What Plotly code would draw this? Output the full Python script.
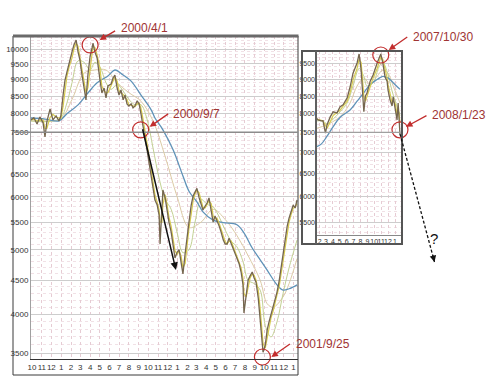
import math
import pandas as pd
import plotly.graph_objects as go

W, H = 499, 388

# ---------------- left panel : index, 1999/10 - 2002/1 ----------------
dates_a = [
    "1999-09-28", "1999-10-07", "1999-10-17", "1999-10-26", "1999-11-05", "1999-11-11", "1999-11-17", "1999-11-27", "1999-12-06", "1999-12-16",
    "1999-12-25", "1999-12-31", "2000-01-07", "2000-01-13", "2000-01-19", "2000-01-26", "2000-02-04", "2000-02-10", "2000-02-17", "2000-02-23",
    "2000-02-29", "2000-03-06", "2000-03-13", "2000-03-19", "2000-03-25", "2000-04-01", "2000-04-07", "2000-04-10", "2000-04-16", "2000-04-23",
    "2000-05-02", "2000-05-08", "2000-05-15", "2000-05-21", "2000-05-27", "2000-06-06", "2000-06-12", "2000-06-18", "2000-06-25", "2000-07-01",
    "2000-07-07", "2000-07-14", "2000-07-20", "2000-07-26", "2000-08-01", "2000-08-08", "2000-08-14", "2000-08-20", "2000-08-27", "2000-09-02",
    "2000-09-08", "2000-09-14", "2000-09-21", "2000-09-27", "2000-10-03", "2000-10-10", "2000-10-16", "2000-10-22", "2000-10-29", "2000-11-04",
    "2000-11-07", "2000-11-13", "2000-11-16", "2000-11-23", "2000-11-29", "2000-12-05", "2000-12-12", "2000-12-18", "2000-12-24", "2000-12-31",
    "2001-01-06", "2001-01-12", "2001-01-18", "2001-01-25", "2001-01-31", "2001-02-06", "2001-02-13", "2001-02-19", "2001-02-25", "2001-03-03",
    "2001-03-10", "2001-03-16", "2001-03-22", "2001-03-29", "2001-04-04", "2001-04-10", "2001-04-17", "2001-04-23", "2001-04-29", "2001-05-05",
    "2001-05-12", "2001-05-18", "2001-05-25", "2001-05-31", "2001-06-06", "2001-06-12", "2001-06-19", "2001-06-25", "2001-07-01", "2001-07-07",
    "2001-07-14", "2001-07-20", "2001-07-26", "2001-07-29", "2001-08-05", "2001-08-11", "2001-08-17", "2001-08-24", "2001-08-30", "2001-09-05",
    "2001-09-12", "2001-09-18", "2001-09-24", "2001-09-27", "2001-10-04", "2001-10-10", "2001-10-16", "2001-10-22", "2001-10-29", "2001-11-04",
    "2001-11-10", "2001-11-17", "2001-11-23", "2001-11-29", "2001-12-05", "2001-12-12", "2001-12-18", "2001-12-24", "2001-12-31", "2002-01-06",
    "2002-01-12",
]
close_a = [
    7830, 7885, 7720, 7910, 7750, 7380, 7780, 8130, 7830, 7940,
    7800, 7940, 8530, 8985, 9230, 9560, 9900, 10140, 10315, 9900,
    9627, 9170, 8740, 8390, 9140, 9760, 10035, 10200, 9900, 9694,
    8985, 8590, 8740, 8446, 8800, 8860, 9047, 9140, 8740, 8530,
    8680, 8390, 8530, 8275, 8215, 8275, 8160, 8215, 8360, 8275,
    7995, 7720, 7360, 7060, 6770, 6472, 6145, 5937, 5835, 5637,
    5100, 5735, 6145, 5980, 5700, 5500, 5315, 5082, 4860, 4960,
    5000, 4790, 4600, 4940, 5260, 5500, 5835, 6020, 6100, 6180,
    5980, 5835, 5735, 5815, 5875, 5980, 5735, 5500, 5620, 5540,
    5425, 5315, 5170, 5100, 5100, 5205, 5100, 5015, 4940, 4860,
    4760, 4630, 4427, 4020, 4320, 4500, 4565, 4630, 4535, 4470,
    4230, 3922, 3690, 3510, 3598, 3790, 3900, 3990, 4120, 4230,
    4320, 4500, 4695, 4960, 5170, 5425, 5580, 5700, 5835, 5775,
    5937,
]
ma_short_a = [
    7830, 7850, 7800, 7810, 7830, 7600, 7600, 7900, 7980, 7900,
    7870, 7870, 8200, 8700, 9100, 9400, 9700, 10000, 10200, 10100,
    9750, 9400, 8950, 8600, 8750, 9400, 9850, 10100, 10050, 9800,
    9350, 8800, 8650, 8600, 8600, 8800, 8950, 9080, 8950, 8650,
    8600, 8550, 8450, 8400, 8250, 8240, 8220, 8190, 8280, 8300,
    8150, 7870, 7550, 7220, 6920, 6620, 6320, 6050, 5890, 5740,
    5500, 5500, 5850, 6050, 5850, 5600, 5420, 5200, 4980, 4920,
    4980, 4900, 4700, 4770, 5100, 5380, 5650, 5920, 6060, 6140,
    6080, 5920, 5790, 5780, 5840, 5920, 5860, 5620, 5560, 5580,
    5480, 5370, 5250, 5140, 5100, 5150, 5150, 5060, 4980, 4900,
    4810, 4700, 4530, 4300, 4250, 4400, 4530, 4600, 4580, 4500,
    4350, 4080, 3800, 3620, 3560, 3690, 3850, 3950, 4050, 4180,
    4280, 4410, 4600, 4830, 5060, 5300, 5500, 5640, 5770, 5800,
    5860,
]
ma_mid_dates_a = [
    "1999-09-28", "1999-11-05", "1999-12-06", "1999-12-31", "2000-01-19", "2000-02-04", "2000-02-23", "2000-03-13", "2000-04-01", "2000-04-16",
    "2000-05-02", "2000-05-21", "2000-06-06", "2000-06-25", "2000-07-14", "2000-08-01", "2000-08-20", "2000-09-08", "2000-09-27", "2000-10-16",
    "2000-11-04", "2000-11-23", "2000-12-12", "2000-12-31", "2001-01-18", "2001-02-06", "2001-02-25", "2001-03-16", "2001-04-04", "2001-04-23",
    "2001-05-12", "2001-05-31", "2001-06-19", "2001-07-07", "2001-07-26", "2001-08-11", "2001-08-30", "2001-09-18", "2001-10-04", "2001-10-22",
    "2001-11-10", "2001-11-29", "2001-12-18", "2002-01-12",
]
ma_mid_a = [
    7800, 7780, 7800, 7880, 8300, 8900, 9600, 9550, 9300, 9550,
    9400, 8900, 8700, 8850, 8650, 8400, 8250, 8250, 7850, 7100,
    6400, 5950, 5750, 5300, 4950, 5000, 5500, 5950, 5850, 5800,
    5600, 5350, 5150, 5050, 4800, 4500, 4450, 4350, 3850, 3700,
    3900, 4300, 4700, 5170,
]
ma_tan_dates_a = [
    "1999-09-28", "1999-11-27", "1999-12-31", "2000-02-04", "2000-03-13", "2000-04-16", "2000-05-21", "2000-06-25", "2000-08-01", "2000-09-08",
    "2000-10-16", "2000-11-23", "2000-12-31", "2001-02-06", "2001-03-16", "2001-04-23", "2001-05-31", "2001-07-07", "2001-08-11", "2001-09-18",
    "2001-10-10", "2001-10-29", "2001-11-29", "2001-12-18", "2002-01-12",
]
ma_tan_a = [
    7800, 7800, 7850, 8400, 9200, 9300, 9300, 8900, 8600, 8350,
    7800, 6900, 6000, 5400, 5500, 5750, 5550, 5250, 4900, 4500,
    4150, 4100, 4250, 4450, 4850,
]
ma_long_dates_a = [
    "1999-09-28", "1999-11-11", "1999-12-25", "2000-01-19", "2000-02-23", "2000-03-25", "2000-04-23", "2000-05-27", "2000-06-18", "2000-07-14",
    "2000-08-08", "2000-09-08", "2000-10-10", "2000-10-22", "2000-11-16", "2000-12-18", "2001-01-18", "2001-02-06", "2001-03-03", "2001-03-22",
    "2001-04-23", "2001-05-25", "2001-07-07", "2001-07-29", "2001-08-24", "2001-09-18", "2001-10-10", "2001-11-10", "2001-11-29", "2001-12-18",
    "2002-01-12",
]
ma_long_a = [
    7880, 7850, 7800, 8000, 8245, 8590, 8900, 9110, 9300, 9140,
    8950, 8530, 8105, 7880, 7565, 7060, 6450, 6120, 5900, 5700,
    5540, 5490, 5450, 5300, 5030, 4830, 4660, 4430, 4350, 4370,
    4430,
]
month_ticks_a = list(pd.date_range("1999-10-01", "2002-01-01", freq="MS").strftime("%Y-%m-%d"))
month_labels_a = ["10", "11", "12", "1", "2", "3", "4", "5", "6", "7", "8", "9", "10", "11",
                  "12", "1", "2", "3", "4", "5", "6", "7", "8", "9", "10", "11", "12", "1"]
y_ticks_a = [3500, 4000, 4500, 5000, 5500, 6000, 6500, 7000, 7500, 8000, 8500, 9000, 9500, 10000]
y_labels_a = ["3500", "4000", "4500", "5000", "5500", "6000", "6500", "7000", "7500", "8000", "8500", "9000", "9500", "10000"]

# ---------------- right panel : index, 2007/2 - 2008/1 ----------------
dates_b = [
    "2007-01-17", "2007-01-25", "2007-02-08", "2007-02-16", "2007-02-27", "2007-03-06", "2007-03-20", "2007-04-02", "2007-04-19", "2007-05-03",
    "2007-05-16", "2007-06-03", "2007-06-16", "2007-06-29", "2007-07-17", "2007-07-26", "2007-08-04", "2007-08-10", "2007-08-16", "2007-08-23",
    "2007-08-30", "2007-09-13", "2007-09-26", "2007-10-14", "2007-10-22", "2007-10-30", "2007-11-08", "2007-11-18", "2007-11-27", "2007-12-01",
    "2007-12-10", "2007-12-19", "2007-12-24", "2008-01-02", "2008-01-10", "2008-01-15", "2008-01-18", "2008-01-23",
]
close_b = [
    7885, 7830, 7800, 7805, 7480, 7700, 7910, 8050, 8020, 8190,
    8245, 8446, 8770, 9200, 9530, 9830, 9300, 8700, 8050, 8500,
    8590, 8950, 9140, 9530, 9680, 9830, 9530, 9080, 8950, 8680,
    8390, 8215, 8475, 8105, 7830, 8300, 7950, 7450,
]
ma_short_b = [
    7860, 7850, 7820, 7800, 7650, 7600, 7780, 7950, 8030, 8100,
    8210, 8350, 8600, 8980, 9350, 9650, 9550, 9100, 8500, 8350,
    8500, 8780, 9050, 9350, 9580, 9720, 9650, 9350, 9050, 8850,
    8550, 8320, 8350, 8280, 8000, 8050, 8050, 7750,
]
ma_mid_dates_b = ["2007-01-17", "2007-02-16", "2007-03-06", "2007-04-02", "2007-05-03", "2007-06-03", "2007-06-29", "2007-07-26", "2007-08-16",
                  "2007-08-30", "2007-09-26", "2007-10-22", "2007-11-08", "2007-11-27", "2007-12-19", "2008-01-10", "2008-01-23"]
ma_mid_b = [7800, 7800, 7720, 7850, 8050, 8300, 8800, 9350, 9100, 8800, 8900, 9400, 9550, 9250, 8650, 8200, 7950]
ma_tan_dates_b = ["2007-01-17", "2007-03-06", "2007-04-19", "2007-05-16", "2007-06-16", "2007-07-17", "2007-08-16", "2007-09-13",
                  "2007-10-14", "2007-11-08", "2007-12-01", "2007-12-24", "2008-01-23"]
ma_tan_b = [7600, 7700, 7850, 8000, 8300, 8800, 9050, 8850, 9100, 9300, 9200, 8800, 8300]
ma_long_dates_b = ["2007-01-17", "2007-02-08", "2007-03-06", "2007-04-02", "2007-05-03", "2007-06-16", "2007-07-17", "2007-08-16",
                   "2007-09-13", "2007-10-14", "2007-11-08", "2007-12-01", "2007-12-24", "2008-01-23"]
ma_long_b = [7130, 7200, 7400, 7650, 7900, 8100, 8350, 8600, 8850, 9000, 9100, 9050, 8900, 8700]
month_ticks_b = list(pd.date_range("2007-02-01", "2008-01-01", freq="MS").strftime("%Y-%m-%d"))
month_labels_b = ["2", "3", "4", "5", "6", "7", "8", "9", "10", "11", "12", "1"]
y_ticks_b = [5500, 6000, 6500, 7000, 7500, 8000, 8500, 9000, 9500]
y_labels_b = ["5500", "6000", "6500", "7000", "7500", "8000", "8500", "9000", "9500"]

# ---------------- marked events ----------------
event_labels = ["2000/4/1", "2000/9/7", "2001/9/25", "2007/10/30", "2008/1/23"]
event_dates = ["2000-04-01", "2000-09-07", "2001-09-25", "2007-10-30", "2008-01-23"]
event_values = [10140, 7565, 3453, 9795, 7565]
event_panel = ["a", "a", "a", "b", "b"]

# ---------------- geometry / styles ----------------
def pxx(x):
    return x / W


def pxy(y):
    return 1 - y / H


XA_DOM = [pxx(31), pxx(298)]
YA_DOM = [pxy(359), pxy(36)]
XB_DOM = [pxx(316), pxx(402)]
YB_DOM = [pxy(235), pxy(51)]
XA_RANGE = ["1999-09-28", "2002-01-15"]
YA_RANGE = [math.log10(3429), math.log10(10459)]
XB_RANGE = ["2007-01-16", "2008-02-01"]
YB_RANGE = [math.log10(5261), math.log10(9931)]


def y_paper(v, rng, dom):
    return dom[0] + (math.log10(v) - rng[0]) / (rng[1] - rng[0]) * (dom[1] - dom[0])


def x_paper(d, rng, dom):
    t, r0, r1 = pd.Timestamp(d), pd.Timestamp(rng[0]), pd.Timestamp(rng[1])
    return dom[0] + (t - r0) / (r1 - r0) * (dom[1] - dom[0])


NARROW = "Liberation Sans Narrow, Arial Narrow, Liberation Sans, Arial, sans-serif"
SANS = "Liberation Sans, Arial, sans-serif"
C_PRICE = "#75664f"
C_SHORT = "#d8cc4e"
C_MID = "#c3d193"
C_TAN = "#dccba6"
C_LONG = "#5f92b8"
C_RED = "#c22d2d"
C_REDTXT = "#a03434"
GRID_DOT_V = "#e6cbd3"
GRID_DOT_H = "#f1e1e6"
GRID = "#cdcdcd"

fig = go.Figure()


def add_panel(xa, ya, d, c, s, md, m, td, t, ld, l):
    fig.add_trace(go.Scatter(x=td, y=t, mode="lines", line=dict(color=C_TAN, width=1, shape="spline"),
                             xaxis=xa, yaxis=ya, hoverinfo="skip"))
    fig.add_trace(go.Scatter(x=md, y=m, mode="lines", line=dict(color=C_MID, width=1, shape="spline"),
                             xaxis=xa, yaxis=ya, hoverinfo="skip"))
    fig.add_trace(go.Scatter(x=ld, y=l, mode="lines", line=dict(color=C_LONG, width=1.3, shape="spline"),
                             xaxis=xa, yaxis=ya, hoverinfo="skip"))
    fig.add_trace(go.Scatter(x=d, y=s, mode="lines", line=dict(color=C_SHORT, width=1.2),
                             xaxis=xa, yaxis=ya, hoverinfo="skip"))
    fig.add_trace(go.Scatter(x=d, y=c, mode="lines", line=dict(color=C_PRICE, width=1.3),
                             xaxis=xa, yaxis=ya, name="Index"))


add_panel("x", "y", dates_a, close_a, ma_short_a, ma_mid_dates_a, ma_mid_a,
          ma_tan_dates_a, ma_tan_a, ma_long_dates_a, ma_long_a)
add_panel("x2", "y2", dates_b, close_b, ma_short_b, ma_mid_dates_b, ma_mid_b,
          ma_tan_dates_b, ma_tan_b, ma_long_dates_b, ma_long_b)

# red circles round the marked days
for p, xa, ya in (("a", "x", "y"), ("b", "x2", "y2")):
    idx = [i for i, e in enumerate(event_panel) if e == p]
    fig.add_trace(go.Scatter(x=[event_dates[i] for i in idx], y=[event_values[i] for i in idx],
                             mode="markers", cliponaxis=False, xaxis=xa, yaxis=ya, hoverinfo="skip",
                             marker=dict(symbol="circle-open", size=16, color=C_RED, line=dict(width=1.2, color=C_RED))))

# arrow + label offsets (pixels) relative to each circle
head_off = [(9.5, -5), (9, -3), (9, 0), (8, -5), (6, -3)]
tail_off = [(17, -10), (20, -14), (20, -14), (20, -14), (22, -12)]
text_off = [(29, -17), (30, -16), (32, -13), (30, -18), (30, -15)]

annotations = []
for i, lab in enumerate(event_labels):
    xa, ya = ("x", "y") if event_panel[i] == "a" else ("x2", "y2")
    yv = math.log10(event_values[i])
    annotations.append(dict(x=event_dates[i], y=yv, xref=xa, yref=ya, text="", showarrow=True,
                            xshift=head_off[i][0], yshift=-head_off[i][1], ax=tail_off[i][0], ay=tail_off[i][1],
                            arrowhead=2, arrowsize=1, arrowwidth=1.3, arrowcolor=C_RED, standoff=0))
    annotations.append(dict(x=event_dates[i], y=yv, xref=xa, yref=ya, text=lab, showarrow=False,
                            xanchor="left", yanchor="middle", xshift=text_off[i][0], yshift=-text_off[i][1],
                            font=dict(family=SANS, size=12, color=C_REDTXT)))

# black projection arrow after 2000/9/7
annotations.append(dict(x="2000-12-27", y=math.log10(4662), xref="x", yref="y",
                        ax="2000-09-12", ay=math.log10(7620), axref="x", ayref="y",
                        text="", showarrow=True, arrowhead=2, arrowsize=1, arrowwidth=1.5,
                        arrowcolor="#111111", standoff=0))

# dashed projection after 2008/1/23 (paper coordinates)
sx = x_paper(event_dates[4], XB_RANGE, XB_DOM)
sy = y_paper(event_values[4], YB_RANGE, YB_DOM) - 4 / H
ex, ey = pxx(434.5), pxy(262)
annotations.append(dict(x=ex, y=ey, xref="paper", yref="paper", text="", showarrow=True,
                        ax=-2, ay=-8, arrowhead=2, arrowsize=1, arrowwidth=1.3, arrowcolor="#111111", standoff=0))
annotations.append(dict(x=pxx(440), y=pxy(238), xref="paper", yref="paper", text="?", showarrow=False,
                        font=dict(family=SANS, size=15, color="#111111")))

shapes = [
    # left frame
    dict(type="rect", xref="paper", yref="paper", x0=pxx(13), x1=pxx(298), y0=pxy(375), y1=pxy(36),
         line=dict(color="#3a3a3a", width=1)),
    dict(type="line", xref="paper", yref="paper", x0=pxx(13), x1=pxx(298.5), y0=pxy(36), y1=pxy(36),
         line=dict(color="#6a6a6a", width=3)),
    # 7500 reference line
    dict(type="line", xref="paper", yref="paper", x0=pxx(13), x1=pxx(298),
         y0=y_paper(7500, YA_RANGE, YA_DOM), y1=y_paper(7500, YA_RANGE, YA_DOM),
         line=dict(color="#8c8c8c", width=1.5)),
    dict(type="line", xref="paper", yref="paper", x0=pxx(316), x1=pxx(402),
         y0=y_paper(7500, YB_RANGE, YB_DOM), y1=y_paper(7500, YB_RANGE, YB_DOM),
         line=dict(color="#a0a0a0", width=1.2)),
    # right frame
    dict(type="rect", xref="paper", yref="paper", x0=pxx(302), x1=pxx(402), y0=pxy(244), y1=pxy(51),
         line=dict(color="#555555", width=2)),
    dict(type="line", xref="paper", yref="paper", x0=pxx(316), x1=pxx(316), y0=pxy(244), y1=pxy(51),
         line=dict(color="#606060", width=2)),
    # dashed projection line
    dict(type="line", xref="paper", yref="paper", x0=sx, y0=sy, x1=ex, y1=ey,
         line=dict(color="#111111", width=1.3, dash="3px,2px")),
]

minor_a = [v for v in range(3500, 10500, 100) if v % 500]
minor_b = [v for v in range(5300, 10000, 100) if v % 500]

axis_common = dict(showgrid=True, zeroline=False, ticks="", fixedrange=True, automargin=False)

fig.update_layout(
    width=W, height=H, margin=dict(l=0, r=0, t=0, b=0, pad=0),
    paper_bgcolor="white", plot_bgcolor="white", showlegend=False,
    font=dict(family=NARROW, color="#333333"),
    xaxis=dict(domain=XA_DOM, range=XA_RANGE, type="date", anchor="y", tickmode="array", tickangle=0,
               tickvals=month_ticks_a, ticktext=month_labels_a, tickfont=dict(size=8, color="#333"),
               gridcolor=GRID_DOT_V, griddash="dot", gridwidth=1, showline=True, linecolor="#333333", linewidth=1,
               **axis_common),
    yaxis=dict(domain=YA_DOM, range=YA_RANGE, type="log", anchor="x", tickmode="array",
               tickvals=y_ticks_a, ticktext=y_labels_a, tickfont=dict(size=8, color="#333"),
               gridcolor=GRID, gridwidth=1, showline=True, linecolor="#a0a0a0", linewidth=1,
               minor=dict(tickmode="array", tickvals=minor_a, showgrid=True, gridcolor=GRID_DOT_H, griddash="dot", ticks=""),
               **axis_common),
    xaxis2=dict(domain=XB_DOM, range=XB_RANGE, type="date", anchor="y2", tickmode="array", tickangle=0,
                tickvals=month_ticks_b, ticktext=month_labels_b, tickfont=dict(size=7, color="#333"),
                gridcolor=GRID_DOT_V, griddash="dot", gridwidth=1, showline=True, linecolor="#888888", linewidth=1,
                **axis_common),
    yaxis2=dict(domain=YB_DOM, range=YB_RANGE, type="log", anchor="x2", tickmode="array",
                tickvals=y_ticks_b, ticktext=y_labels_b, tickfont=dict(size=7, color="#333"),
                gridcolor=GRID, gridwidth=1, showline=False,
                minor=dict(tickmode="array", tickvals=minor_b, showgrid=True, gridcolor=GRID_DOT_H, griddash="dot", ticks=""),
                **axis_common),
    shapes=shapes,
    annotations=annotations,
)

fig.write_html("out.html", config={"displayModeBar": False},
               post_script="document.body.style.margin='0';document.body.style.padding='0';")
